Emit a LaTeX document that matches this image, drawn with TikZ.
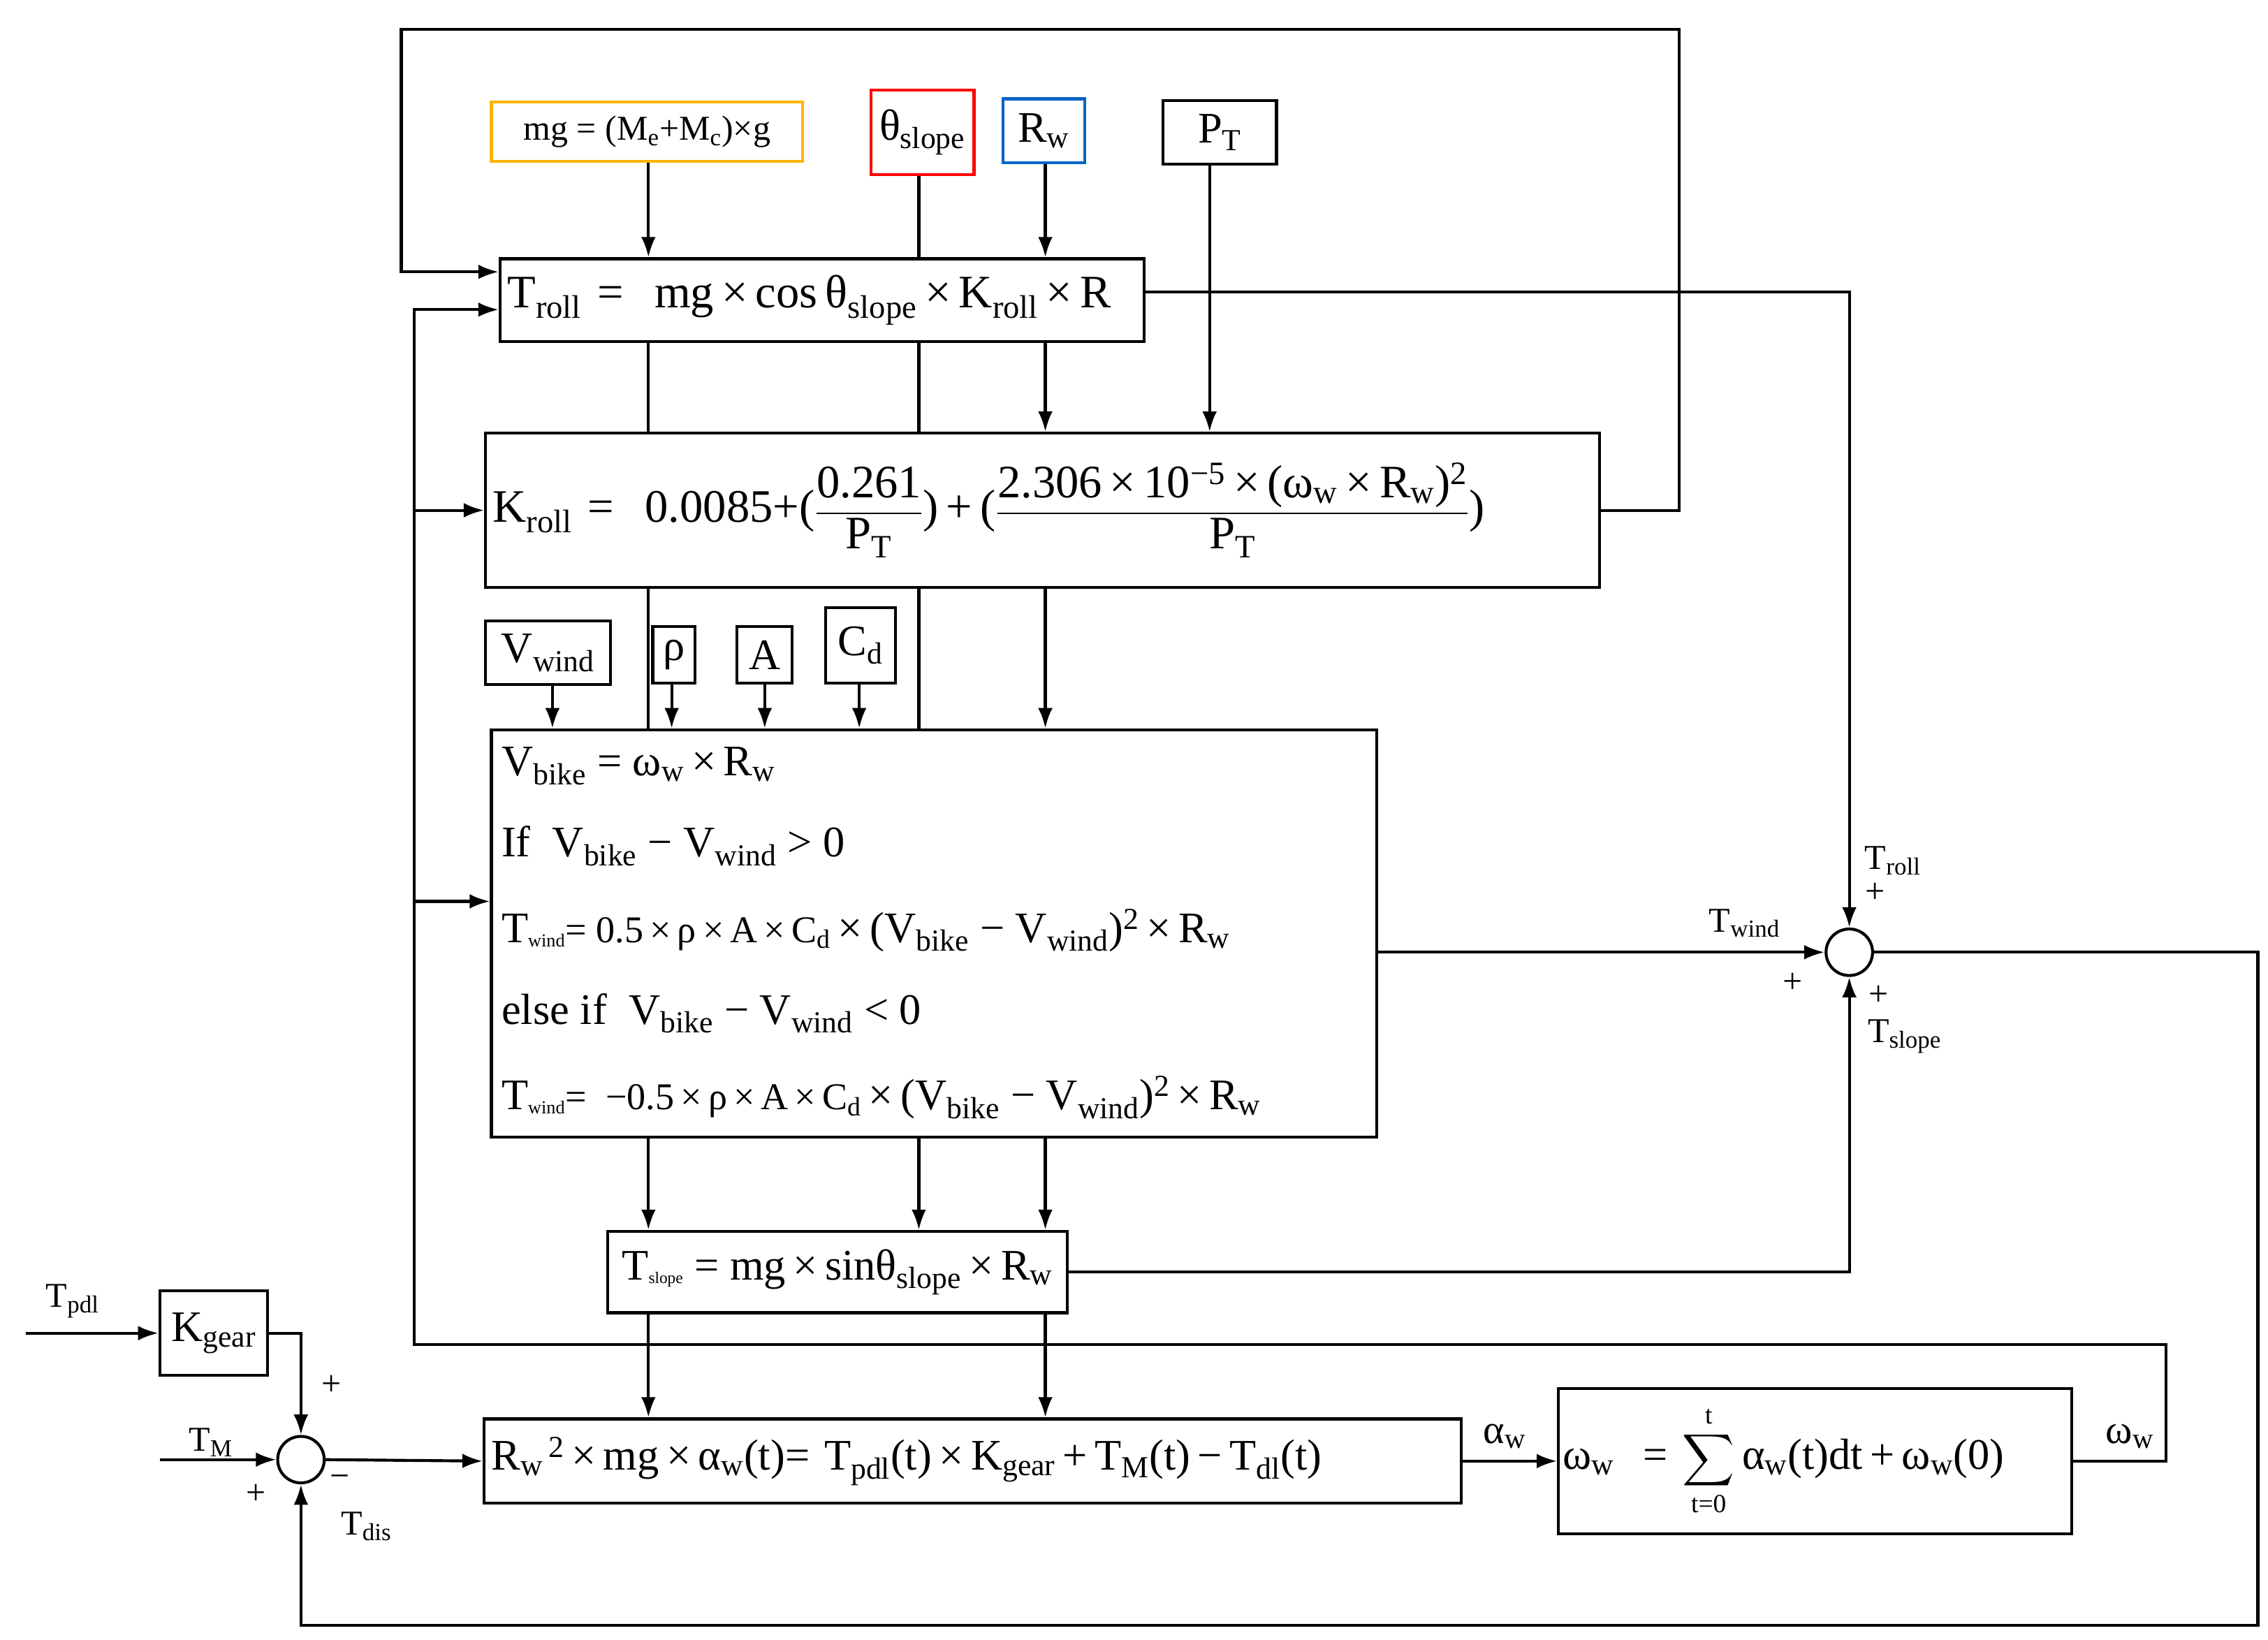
\documentclass[tikz,border=0pt]{standalone}
\usepackage{amsmath}
\usepackage{fontspec}
\setmainfont{Liberation Serif}
\usetikzlibrary{arrows.meta}
\newcommand{\sbx}[1]{\textsubscript{#1}}
\newcommand{\X}{\,×\,}
\begin{document}
\begin{tikzpicture}[x=1pt,y=-1pt,
  line width=2pt,
  box/.style={draw,line width=2pt,inner sep=3pt,font=\fontsize{30}{34}\selectfont},
  lbox/.style={box,align=left,inner xsep=5pt},
  arr/.style={-{Latex[length=14pt,width=10pt]}},
  lab/.style={font=\fontsize{24}{28}\selectfont,inner sep=1pt},
  sum/.style={draw,circle,minimum size=32pt,inner sep=0pt,line width=2pt}]
\useasboundingbox (0,0) rectangle (1560,1128);
% top inputs
\node[box,draw={rgb,255:red,255;green,180;blue,0},minimum width=214pt,minimum height=41pt,font=\fontsize{24}{28}\selectfont] (mg) at (445,90.5) {mg = (M\sbx{e}+M\sbx{c})×g};
\node[box,draw=red,minimum width=71pt,minimum height=58pt] (th) at (634.5,91) {θ\sbx{slope}};
\node[box,draw={rgb,255:red,0;green,100;blue,200},minimum width=56pt,minimum height=44pt] (rw) at (718,90) {R\sbx{w}};
\node[box,minimum width=78pt,minimum height=44pt] (pt) at (839,91) {P\sbx{T}};
% Troll
\node[lbox,minimum height=57pt,text width=433pt,font=\fontsize{32}{36}\selectfont] (troll) at (565.5,206.5) {T\sbx{roll}\ = \ mg\X cos\,θ\sbx{slope}\X K\sbx{roll}\X R};
% Kroll
\node[lbox,minimum height=106pt,text width=756pt,font=\fontsize{32}{36}\selectfont] (kroll) at (717,351) {K\sbx{roll}\ = \ 0.0085+($\displaystyle\frac{\hbox{0.261}}{\hbox{P\sbx{T}}}$)\,+\,($\displaystyle\frac{\hbox{2.306\X 10\textsuperscript{−5}\X (ω\sbx{w}\X R\sbx{w})\textsuperscript{2}}}{\hbox{P\sbx{T}}}$)};
% small inputs
\node[box,minimum width=86pt,minimum height=44pt] (vw) at (377,449) {V\sbx{wind}};
\node[box,minimum width=29pt,minimum height=39pt,inner sep=1pt] (rho) at (463.5,450.5) {ρ};
\node[box,minimum width=38pt,minimum height=39pt] (A) at (526,450.5) {A};
\node[box,minimum width=48pt,minimum height=52pt] (cd) at (592,444) {C\sbx{d}};
% big box
\node[draw,line width=2pt,minimum width=609pt,minimum height=280pt] (big) at (642.5,642) {};
\begin{scope}[every node/.style={anchor=west,inner sep=0pt,font=\fontsize{30}{34}\selectfont}]
\node (l1) at (344,527) {V\sbx{bike}\ = ω\sbx{w}\X R\sbx{w}};
\node (l2) at (344,582) {If\ \ V\sbx{bike}\ − V\sbx{wind}\ > 0};
\node (l3) at (344,640) {T{\fontsize{18}{20}\selectfont\sbx{wind}}{\fontsize{26}{30}\selectfont = 0.5\X ρ\X A\X C\sbx{d}}\X (V\sbx{bike}\ − V\sbx{wind})\textsuperscript{2}\X R\sbx{w}};
\node (l4) at (344,697) {else if\ \ V\sbx{bike}\ − V\sbx{wind}\ < 0};
\node (l5) at (344,755) {T{\fontsize{18}{20}\selectfont\sbx{wind}}{\fontsize{26}{30}\selectfont =\ \ −0.5\X ρ\X A\X C\sbx{d}}\X (V\sbx{bike}\ − V\sbx{wind})\textsuperscript{2}\X R\sbx{w}};
\end{scope}
% Tslope
\node[box,minimum width=316pt,minimum height=56pt] (ts) at (576,875) {T{\fontsize{16}{18}\selectfont\sbx{slope}} = mg\X sinθ\sbx{slope}\X R\sbx{w}};
% Kgear
\node[box,minimum width=74pt,minimum height=58pt] (kg) at (147,917) {K\sbx{gear}};
% eq
\node[lbox,minimum height=58pt,text width=662pt] (eq) at (669,1005) {R\sbx{w}\textsuperscript{\,2}\X mg\X α\sbx{w}(t)= T\sbx{pdl}(t)\X K\sbx{gear}\,+\,T\sbx{M}(t)\,−\,T\sbx{dl}(t)};
% integral
\node[lbox,minimum height=100pt,text width=347pt,inner xsep=3pt] (int) at (1248.5,1005) {ω\sbx{w}\ \ = $\displaystyle\sum_{\hbox{\fontsize{18}{20}\selectfont t=0}}^{\hbox{\fontsize{18}{20}\selectfont t}}$\,α\sbx{w}(t)dt\,+\,ω\sbx{w}(0)};
% sums
\node[sum] (s2) at (1272,655) {};
\node[sum] (s1) at (207,1004) {};
% coordinates
\coordinate (c1) at (1155,20);
\coordinate (c2) at (276,20);
\coordinate (fb1) at (1490,925);
\coordinate (fb2) at (285,925);
\coordinate (lp) at (1553,1118);
\coordinate (tin) at (18,917);
\coordinate (tmin) at (110,1004);
% top loop
\draw[arr] (kroll.east) -- (kroll.east -| c1) -- (c1) -- (c2) -- (c2 |- 0,187) -- (troll.west |- 0,187);
% omega feedback
\draw[arr] (int.east) -- (int.east -| fb1) -- (fb1) -- (fb2) -- (fb2 |- 0,213) -- (troll.west |- 0,213);
\draw[arr] (fb2 |- kroll.west) -- (kroll.west);
\draw[arr] (fb2 |- 0,620) -- (big.west |- 0,620);
% inputs
\draw[arr] (mg.south -| 446,0) -- (troll.north -| 446,0);
\draw (th.south -| 632,0) -- (troll.north -| 632,0);
\draw[arr] (rw.south -| 719,0) -- (troll.north -| 719,0);
\draw[arr] (pt.south -| 832,0) -- (kroll.north -| 832,0);
\draw (troll.south -| 446,0) -- (kroll.north -| 446,0);
\draw (troll.south -| 632,0) -- (kroll.north -| 632,0);
\draw[arr] (troll.south -| 719,0) -- (kroll.north -| 719,0);
\draw (kroll.south -| 446,0) -- (big.north -| 446,0);
\draw (kroll.south -| 632,0) -- (big.north -| 632,0);
\draw[arr] (kroll.south -| 719,0) -- (big.north -| 719,0);
\draw[arr] (vw.south -| 380,0) -- (big.north -| 380,0);
\draw[arr] (rho.south -| 462,0) -- (big.north -| 462,0);
\draw[arr] (A.south) -- (big.north -| A.south);
\draw[arr] (cd.south -| 591,0) -- (big.north -| 591,0);
\foreach \x in {446,632,719} \draw[arr] (big.south -| \x,0) -- (ts.north -| \x,0);
\foreach \x in {446,719} \draw[arr] (ts.south -| \x,0) -- (eq.north -| \x,0);
% to sum2
\draw[arr] (troll.east |- 0,201) -- (s2.north |- 0,201) -- (s2.north);
\draw[arr] (big.east |- s2.west) -- (s2.west);
\draw[arr] (ts.east) -- (ts.east -| s2.south) -- (s2.south);
\draw[arr] (s2.east) -- (s2.east -| lp) -- (lp) -- (lp -| s1.south) -- (s1.south);
% left
\draw[arr] (tin) -- (kg.west);
\draw[arr] (kg.east) -- (kg.east -| s1.north) -- (s1.north);
\draw[arr] (tmin) -- (s1.west);
\draw[arr] (s1.east) -- (eq.west);
\draw[arr] (eq.east) -- (int.west);
% labels
\node[lab] (lroll) at (1302,592) {T\sbx{roll}};
\node[lab] (p1) at (1290,614) {+};
\node[lab] (lwind) at (1200,635) {T\sbx{wind}};
\node[lab] (p2) at (1233,676) {+};
\node[lab] (p3) at (1292,685) {+};
\node[lab] (lslope) at (1310,713) {T\sbx{slope}};
\node[lab] (lpdl) at (50,895) {T\sbx{pdl}};
\node[lab] (p4) at (228,953) {+};
\node[lab] (lm) at (145,992) {T\sbx{M}};
\node[lab] (p5) at (176,1028) {+};
\node[lab] (m1) at (234,1019) {−};
\node[lab] (ldis) at (252,1050) {T\sbx{dis}};
\node[lab,font=\fontsize{28}{32}\selectfont] (la) at (1035,988) {α\sbx{w}};
\node[lab,font=\fontsize{28}{32}\selectfont] (lw) at (1465,988) {ω\sbx{w}};
\end{tikzpicture}
\end{document}
